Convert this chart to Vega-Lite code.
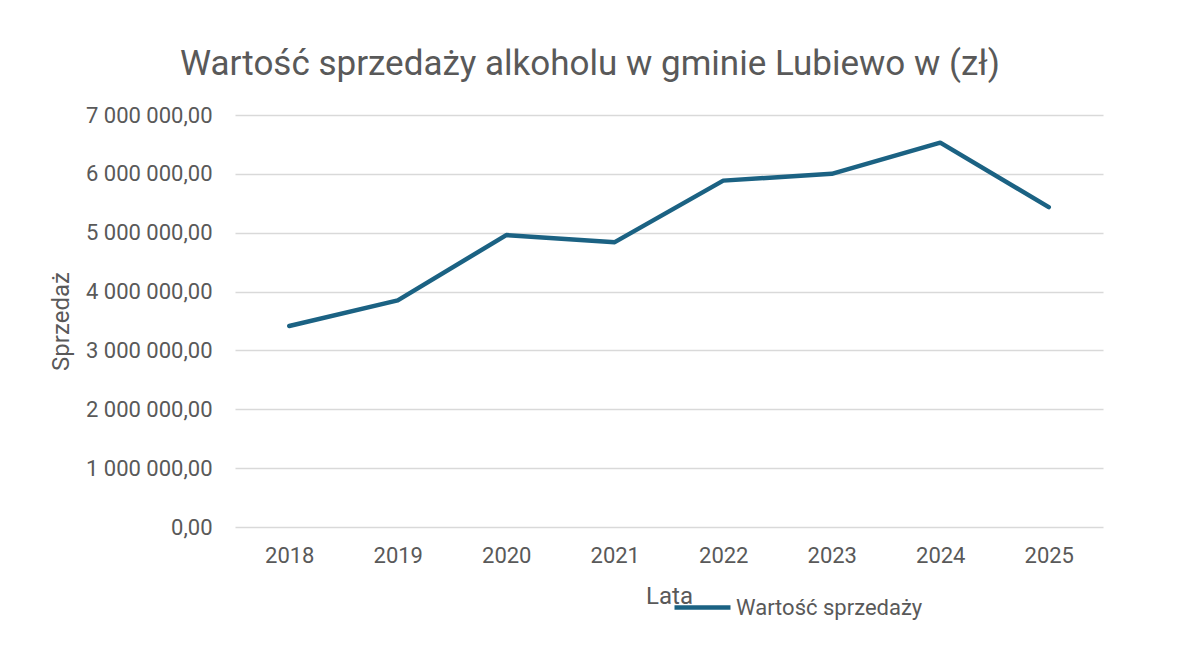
{
  "$schema": "https://vega.github.io/schema/vega-lite/v6.json",
  "autosize": "none",
  "width": 868,
  "height": 412,
  "padding": {"left": 235, "top": 115, "right": 91, "bottom": 121},
  "background": "white",
  "title": {
    "text": "Wartość sprzedaży alkoholu w gminie Lubiewo w (zł)",
    "font": "Roboto",
    "fontSize": 35,
    "fontWeight": "normal",
    "color": "#595959",
    "anchor": "middle",
    "frame": "group",
    "offset": 22,
    "dx": -79
  },
  "data": {
    "values": [
      {"rok": "2018", "wartosc": 3415000, "seria": "Wartość sprzedaży"},
      {"rok": "2019", "wartosc": 3850000, "seria": "Wartość sprzedaży"},
      {"rok": "2020", "wartosc": 4960000, "seria": "Wartość sprzedaży"},
      {"rok": "2021", "wartosc": 4840000, "seria": "Wartość sprzedaży"},
      {"rok": "2022", "wartosc": 5885000, "seria": "Wartość sprzedaży"},
      {"rok": "2023", "wartosc": 6000000, "seria": "Wartość sprzedaży"},
      {"rok": "2024", "wartosc": 6530000, "seria": "Wartość sprzedaży"},
      {"rok": "2025", "wartosc": 5435000, "seria": "Wartość sprzedaży"}
    ]
  },
  "mark": {"type": "line", "strokeWidth": 4.5, "strokeCap": "round", "strokeJoin": "round"},
  "encoding": {
    "x": {
      "field": "rok",
      "type": "ordinal",
      "scale": {"type": "point", "padding": 0.5},
      "axis": {
        "title": "Lata",
        "labelAngle": 0,
        "labelFontSize": 22,
        "labelPadding": 18,
        "titleFontSize": 24,
        "titlePadding": 18,
        "domain": false,
        "ticks": false,
        "grid": false
      }
    },
    "y": {
      "field": "wartosc",
      "type": "quantitative",
      "scale": {"domain": [0, 7000000], "nice": false},
      "axis": {
        "title": "Sprzedaż",
        "values": [0, 1000000, 2000000, 3000000, 4000000, 5000000, 6000000, 7000000],
        "labelExpr": "replace(replace(replace(format(datum.value, ',.2f'), ',', ' '), ',', ' '), '.', ',')",
        "labelFontSize": 22,
        "labelPadding": 23,
        "titleFontSize": 24,
        "titlePadding": 12,
        "domain": false,
        "ticks": false,
        "grid": true,
        "gridColor": "#d9d9d9",
        "gridWidth": 1.5
      }
    },
    "color": {
      "field": "seria",
      "type": "nominal",
      "scale": {"range": ["#1b6283"]},
      "legend": {
        "title": null,
        "orient": "none",
        "legendX": 437,
        "legendY": 462,
        "symbolType": "stroke",
        "symbolSize": 3136,
        "symbolStrokeWidth": 4.5,
        "labelFontSize": 22,
        "labelLimit": 0,
        "labelOffset": 3
      }
    }
  },
  "config": {
    "font": "Roboto",
    "view": {"stroke": null},
    "axis": {"labelColor": "#595959", "titleColor": "#595959", "labelFont": "Roboto", "titleFont": "Roboto", "titleFontWeight": "normal"},
    "legend": {"labelColor": "#595959", "labelFont": "Roboto"}
  }
}
